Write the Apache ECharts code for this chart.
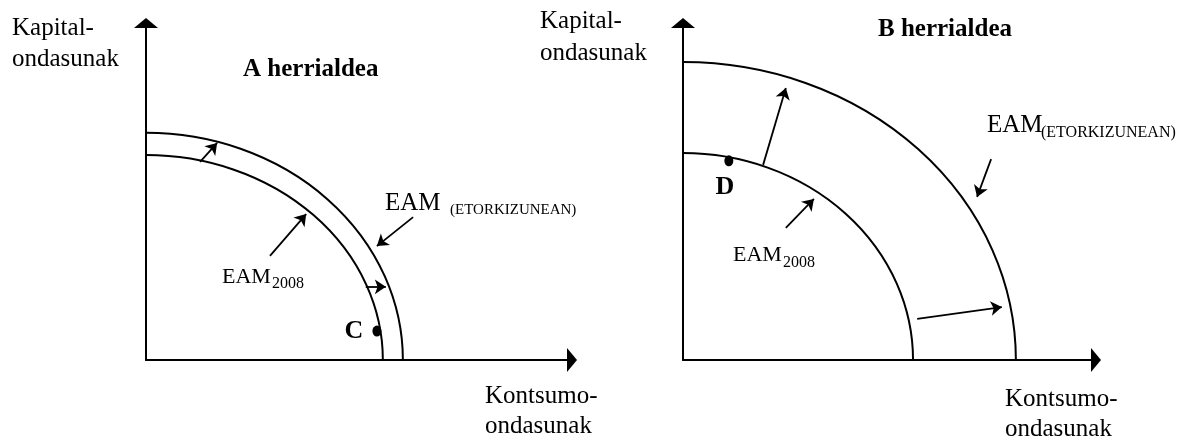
<!DOCTYPE html>
<html>
<head>
<meta charset="utf-8">
<script src="https://cdn.jsdelivr.net/npm/echarts@6/dist/echarts.min.js"></script>
<style>
    html, body { margin: 0; padding: 0; background: #fff; }
    #chart { width: 1195px; height: 441px; }
</style>
</head>
<body>
<div id="chart"></div>
<script>
// production possibility frontiers: [consumption intercept, capital intercept], axes run 0..100
const ppfA = [[55.6, 60.8], [60.3, 67.4]]; // EAM2008, EAM (etorkizunean)
const ppfB = [[55.7, 61.4], [80.6, 88.4]];

// marked points
const pointsA = [{ name: "C", value: [54.2, 8.6] }];
const pointsB = [{ name: "D", value: [11.1, 59.1] }];

// arrows [from, to]
const arrowsA = [
    [[12.7, 58.8], [16.7, 64.4]],
    [[51.6, 21.7], [56.3, 21.7]],
    [[29.1, 30.9], [37.6, 43.3]],
    [[62.7, 42.4], [54.2, 33.8]],
];
const arrowsB = [
    [[19.4, 57.9], [24.9, 80.7]],
    [[56.7, 12.2], [77.2, 15.7]],
    [[24.9, 39.2], [31.7, 47.8]],
    [[74.6, 59.6], [71.2, 48.4]],
];

const titles = ["A herrialdea", "B herrialdea"];
const yName = "Kapital-\nondasunak";
const xName = "Kontsumo-\nondasunak";

const FONT = '"Liberation Serif", "Times New Roman", serif';
let myChart, option;

function axisPair(idx) {
    const common = {
        type: "value",
        min: 0,
        max: 100,
        gridIndex: idx,
        axisLine: {
            show: true,
            symbol: ["none", "triangle"],
            symbolSize: [24, 10],
            lineStyle: { color: "#000", width: 2 },
        },
        axisTick: { show: false },
        axisLabel: { show: false },
        splitLine: { show: false },
    };
    return [common, { ...common }];
}

// quarter ellipse from (0, ry) down to (rx, 0)
function renderPpf(params, api) {
    const o = api.coord([0, 0]);
    const px = api.coord([api.value(0), 0]);
    const py = api.coord([0, api.value(1)]);
    const rx = px[0] - o[0];
    const ry = o[1] - py[1];
    return {
        type: "path",
        shape: {
            pathData: "M" + py[0] + " " + py[1] + " A" + rx + " " + ry + " 0 0 1 " + px[0] + " " + px[1],
        },
        style: { fill: "none", stroke: "#000", lineWidth: 2 },
    };
}

function dotSeries(idx, data, labelOpt) {
    return {
        type: "scatter",
        xAxisIndex: idx,
        yAxisIndex: idx,
        data: data,
        symbol: "path://M4 0 A4 5 0 1 1 4 10 A4 5 0 1 1 4 0 Z",
        symbolSize: [9, 11],
        itemStyle: { color: "#000", opacity: 1 },
        label: {
            show: true,
            formatter: "{b}",
            color: "#000",
            opacity: 1,
            fontFamily: FONT,
            fontWeight: "bold",
            fontSize: 26,
            ...labelOpt,
        },
        emphasis: { disabled: true },
        z: 5,
    };
}

function arrowSeries(idx, list) {
    return {
        type: "lines",
        coordinateSystem: "cartesian2d",
        xAxisIndex: idx,
        yAxisIndex: idx,
        symbol: ["none", "arrow"],
        symbolSize: 11,
        lineStyle: { color: "#000", width: 1.8, opacity: 1 },
        data: list.map((c) => ({ coords: c })),
    };
}

function txt(text, x, y, size, extra) {
    return {
        type: "text",
        x: x,
        y: y,
        style: {
            text: text,
            fontFamily: FONT,
            fontSize: size,
            fill: "#000",
            align: "left",
            verticalAlign: "middle",
            ...extra,
        },
    };
}

function initEcharts() {
    myChart = echarts.init(document.getElementById("chart"));
    const [xA, yA] = axisPair(0);
    const [xB, yB] = axisPair(1);

    option = {
        animation: false,
        grid: [
            { left: 146, top: 23, width: 426, height: 337 },
            { left: 683, top: 23, width: 413, height: 337 },
        ],
        xAxis: [xA, xB],
        yAxis: [yA, yB],
        series: [
            { type: "custom", xAxisIndex: 0, yAxisIndex: 0, renderItem: renderPpf, data: ppfA, clip: false },
            { type: "custom", xAxisIndex: 1, yAxisIndex: 1, renderItem: renderPpf, data: ppfB, clip: false },
            arrowSeries(0, arrowsA),
            arrowSeries(1, arrowsB),
            dotSeries(0, pointsA, { position: "left", distance: 9 }),
            dotSeries(1, pointsB, { position: "bottom", distance: 8, offset: [-4, 0] }),
        ],
        graphic: [
            // axis names
            txt(yName, 12, 13, 25, { verticalAlign: "top", lineHeight: 31 }),
            txt(yName, 540, 5, 25, { verticalAlign: "top", lineHeight: 32 }),
            txt(xName, 485, 381, 25, { verticalAlign: "top", lineHeight: 30 }),
            txt(xName, 1005, 384, 25, { verticalAlign: "top", lineHeight: 30 }),
            // titles
            txt(titles[0], 243, 70, 25, { fontWeight: "bold" }),
            txt(titles[1], 878, 30, 25, { fontWeight: "bold" }),
            // curve labels, panel A
            txt("EAM", 222, 277, 22),
            txt("2008", 272, 283.5, 16),
            txt("EAM", 385, 203.5, 25),
            txt("(ETORKIZUNEAN)", 450, 210, 15),
            // curve labels, panel B
            txt("EAM", 733, 255, 22),
            txt("2008", 783, 262.5, 16),
            txt("EAM", 987, 125.5, 25),
            txt("(ETORKIZUNEAN)", 1041, 132.5, 16),
        ],
    };
    option && myChart.setOption(option);
}

initEcharts();
</script>
</body>
</html>
